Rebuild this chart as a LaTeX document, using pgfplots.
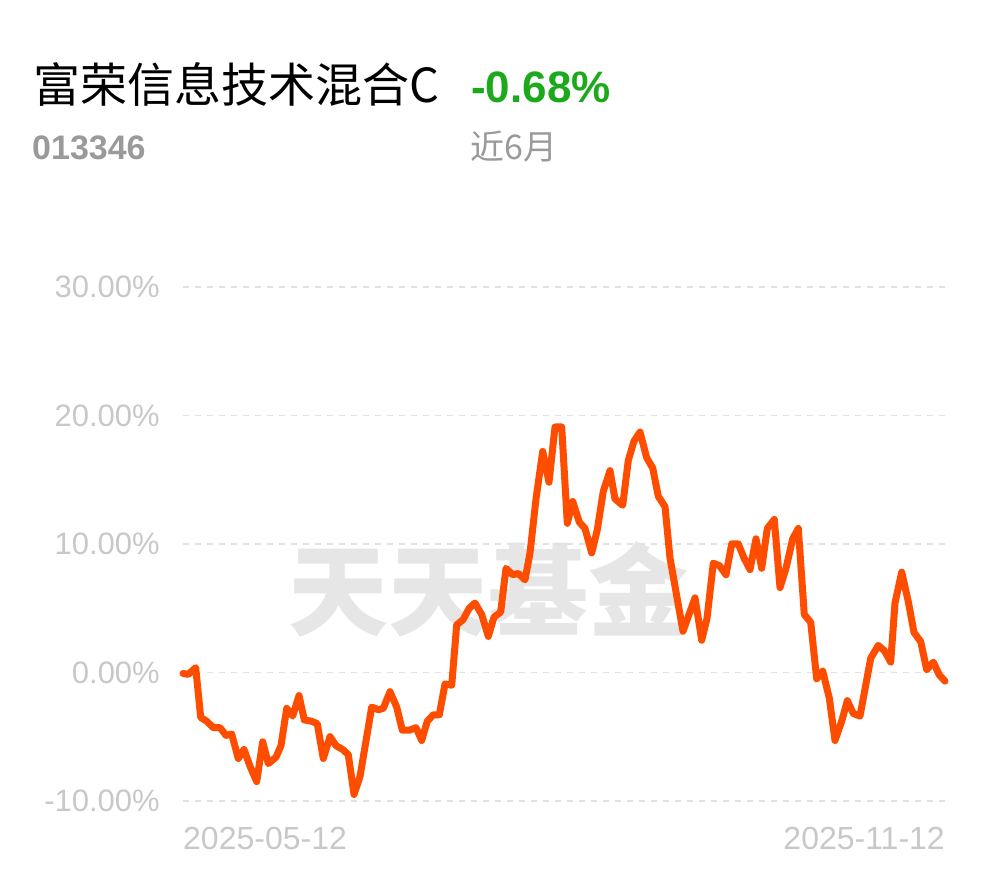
\documentclass[border=0pt]{standalone}
\usepackage{pgfplots}
\pgfplotsset{compat=1.18}
\usepackage{fontspec}
\setmainfont{Liberation Sans}
\newfontfamily\cjk{Noto Sans CJK SC}
\definecolor{lineorange}{HTML}{FF4D00}
\definecolor{upgreen}{HTML}{1CAA1C}
\definecolor{ticgray}{HTML}{C8C8C8}
\definecolor{gridgray}{HTML}{E2E2E2}
\definecolor{wmgray}{HTML}{E6E6E6}
\definecolor{subgray}{HTML}{9A9A9A}
\pgfplotstableread{
x y
183 -0.08
188.3 -0.15
195.7 0.37
200.7 -3.5
206.7 -3.8
213.3 -4.3
220 -4.3
226 -4.9
231.7 -4.8
238.3 -6.7
244 -6.0
250 -7.3
256.7 -8.5
262.7 -5.4
268.3 -7.1
276 -6.6
281 -5.7
286.7 -2.8
292.7 -3.4
299 -1.8
304.3 -3.7
311.7 -3.8
317.3 -4.0
323.3 -6.7
330 -5.0
336 -5.7
342.7 -6.0
348.3 -6.4
354 -9.5
360 -8.1
371.7 -2.7
378.3 -2.9
383.3 -2.8
390 -1.5
396.7 -2.7
402.3 -4.5
409.3 -4.5
416 -4.3
421.7 -5.3
427.3 -3.8
433.3 -3.3
439.3 -3.3
445 -0.9
451.7 -1.0
456.7 3.7
463 4.1
469.3 5.0
475 5.4
481.7 4.5
488.3 2.8
494 4.3
500.7 4.7
506 8.1
512.7 7.6
518.3 7.7
525 7.2
530 9.3
536 13.5
542.7 17.2
549 14.8
555 19.1
561.7 19.1
567.3 11.6
572.7 13.3
579.3 11.7
585 11.2
591.7 9.3
597.3 11.1
603.3 14.1
610 15.7
615 13.5
622.7 13.0
628.3 16.5
634 18.0
640 18.7
646.7 16.7
652.7 15.9
658.3 13.7
665 12.9
670 8.9
683 3.2
695 5.8
701.7 2.5
707 4.2
713.3 8.5
719.5 8.3
726 7.6
731.7 10.0
738.3 10.0
744 8.9
750 8.0
756 10.4
761.7 8.1
767.3 11.2
774.3 11.9
780 6.6
786 8.1
792.7 10.4
798.3 11.2
804.3 4.5
810.7 3.9
816.7 -0.5
822.7 0.1
829.3 -2.0
835 -5.3
841.7 -3.8
847.3 -2.2
853.3 -3.2
860 -3.4
870.7 1.1
878.3 2.1
884.3 1.7
890.7 0.8
895 5.4
901.7 7.8
908.3 5.5
914 3.1
920.7 2.4
926.7 0.2
933.3 0.8
939.3 -0.2
945 -0.68
}\fund
\begin{document}
\begin{tikzpicture}[x=1pt,y=1pt]
\path (0,0) rectangle (990,878);
% header
\node[anchor=base west,inner sep=0pt] at (33,775) {\cjk\fontsize{47}{50}\selectfont 富荣信息技术混合C};
\node[anchor=base west,inner sep=0pt,text=upgreen] at (471,775) {\fontsize{44}{50}\selectfont\bfseries -0.68\%};
\node[anchor=base west,inner sep=0pt,text=subgray] at (32,718) {\fontsize{34}{40}\selectfont\bfseries 013346};
\node[anchor=base west,inner sep=0pt,text=subgray] at (470,718) {\cjk\fontsize{34}{40}\selectfont 近6月};
% watermark
\node[text=wmgray,inner sep=0pt] at (488,288) {\cjk\bfseries\fontsize{100}{110}\selectfont 天天基金};
\begin{axis}[
  at={(183,60)}, anchor=south west,
  scale only axis, width=762pt, height=514pt,
  xmin=183, xmax=945, ymin=-10, ymax=30,
  clip=false,
  axis line style={draw=none},
  tick style={draw=none},
  xtick=\empty,
  ytick={-10,0,10,20,30},
  yticklabels={-10.00\%,0.00\%,10.00\%,20.00\%,30.00\%},
  yticklabel style={font=\fontsize{31}{34}\selectfont, text=ticgray, inner sep=0pt, xshift=-23pt},
  ymajorgrids,
  major grid style={gridgray, line width=1.5pt, dash pattern=on 6pt off 6pt},
]
\addplot[lineorange, line width=7pt, line join=round, line cap=round] table[x=x,y=y] {\fund};
\node[anchor=west,inner sep=0pt,text=ticgray,font=\fontsize{32}{36}\selectfont] at (rel axis cs:0,0) [yshift=-38pt] {2025-05-12};
\node[anchor=east,inner sep=0pt,text=ticgray,font=\fontsize{32}{36}\selectfont] at (rel axis cs:1,0) [yshift=-38pt] {2025-11-12};
\end{axis}
\end{tikzpicture}
\end{document}
